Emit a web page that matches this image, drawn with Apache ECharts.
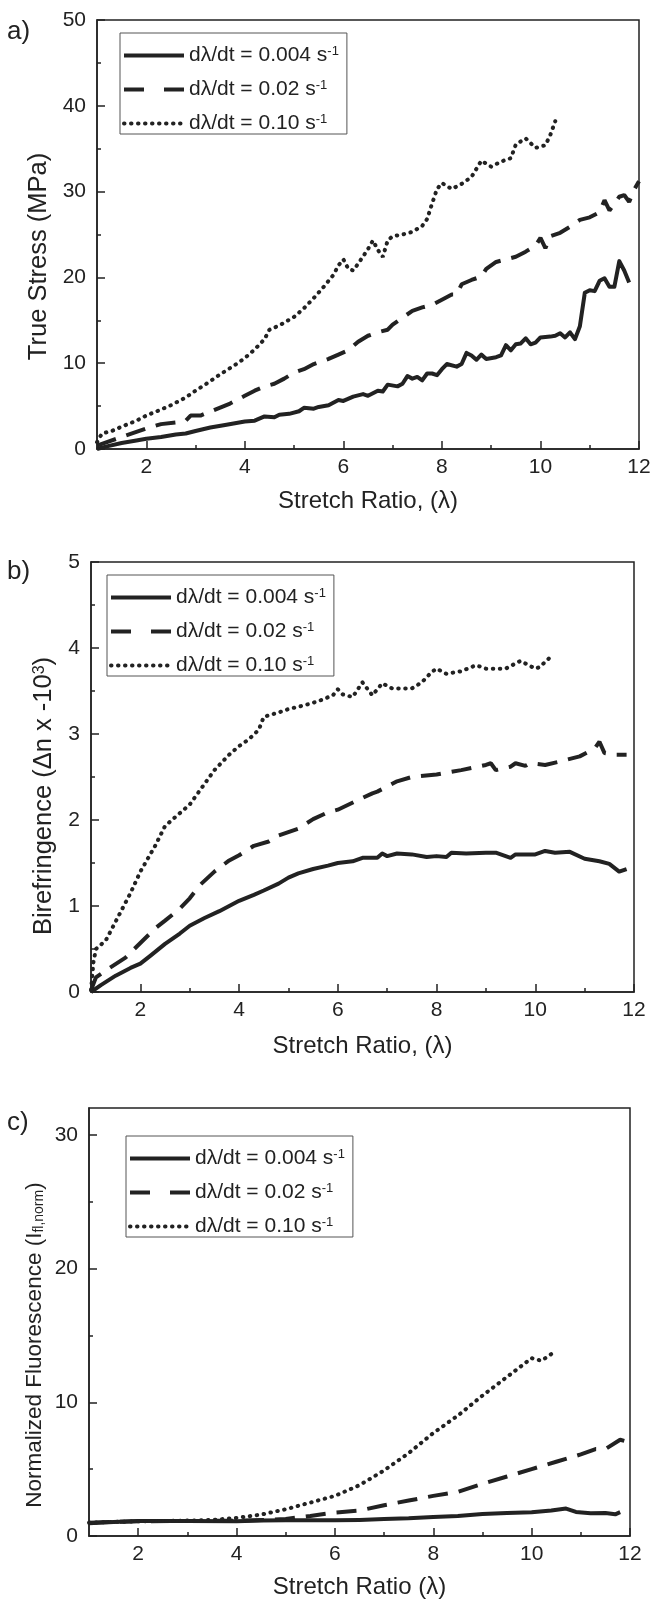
<!DOCTYPE html>
<html>
<head>
<meta charset="utf-8">
<script src="https://cdn.jsdelivr.net/npm/echarts@6/dist/echarts.min.js"></script>
<style>
html,body{margin:0;padding:0;background:#fff;}
#container{width:651px;height:1602px;}
</style>
</head>
<body>
<div id="container"></div>
<script>
// rates shown in the legends
var rates = ['0.004', '0.02', '0.10'];

// ticks
var xMajor = [2, 4, 6, 8, 10, 12];
var xMinor = [3, 5, 7, 9, 11];
var stressMajor = [0, 10, 20, 30, 40, 50];
var stressMinor = [5, 15, 25, 35, 45];
var birefMajor = [0, 1, 2, 3, 4, 5];
var birefMinor = [0.5, 1.5, 2.5, 3.5, 4.5];
var fluorMajor = [0, 10, 20, 30];
var fluorMinor = [5, 15, 25];

// a) true stress [lambda, MPa]
var stress004 = [[1.0,0.0],[1.2,0.3],[1.5,0.7],[1.8,1.0],[2.0,1.2],[2.3,1.4],[2.6,1.7],[2.8,1.8],[3.0,2.1],[3.3,2.5],[3.6,2.8],[3.8,3.0],[4.0,3.2],[4.2,3.3],[4.4,3.8],[4.6,3.7],[4.7,4.0],[4.9,4.1],[5.1,4.4],[5.2,4.8],[5.4,4.7],[5.5,4.9],[5.7,5.1],[5.9,5.7],[6.0,5.6],[6.2,6.1],[6.4,6.4],[6.5,6.2],[6.7,6.8],[6.8,6.7],[6.9,7.5],[7.1,7.3],[7.2,7.6],[7.3,8.5],[7.4,8.2],[7.5,8.4],[7.6,8.0],[7.7,8.8],[7.8,8.8],[7.9,8.6],[8.0,9.3],[8.1,9.9],[8.3,9.6],[8.4,9.9],[8.5,11.2],[8.6,10.9],[8.7,10.4],[8.8,11.0],[8.9,10.5],[9.1,10.7],[9.2,10.9],[9.3,12.1],[9.4,11.5],[9.5,12.2],[9.6,12.3],[9.7,12.9],[9.8,12.2],[9.9,12.4],[10.0,13.0],[10.2,13.1],[10.3,13.2],[10.4,13.5],[10.5,13.0],[10.6,13.6],[10.7,12.8],[10.8,14.3],[10.9,18.2],[11.0,18.5],[11.1,18.4],[11.2,19.6],[11.3,19.9],[11.4,18.9],[11.5,18.9],[11.6,21.9],[11.7,20.8],[11.8,19.4]];
var stress002 = [[1.0,0.4],[1.2,0.8],[1.5,1.4],[1.8,2.0],[2.0,2.4],[2.3,2.9],[2.6,3.1],[2.8,3.3],[2.9,3.9],[3.1,3.9],[3.4,4.6],[3.7,5.3],[4.0,6.2],[4.2,6.8],[4.4,7.3],[4.6,7.6],[4.8,8.2],[5.0,8.9],[5.2,9.3],[5.4,9.9],[5.7,10.5],[5.9,11.0],[6.1,11.5],[6.3,12.5],[6.5,13.2],[6.7,13.6],[6.9,13.9],[7.0,14.5],[7.2,15.3],[7.4,16.1],[7.6,16.5],[7.8,16.8],[8.0,17.4],[8.2,18.0],[8.3,18.0],[8.4,19.2],[8.6,19.7],[8.8,20.1],[8.9,21.0],[9.1,21.8],[9.3,22.1],[9.5,22.4],[9.7,23.0],[9.9,23.7],[10.0,24.6],[10.1,23.4],[10.2,24.8],[10.4,25.2],[10.6,25.9],[10.8,26.7],[11.0,27.0],[11.2,27.6],[11.3,29.0],[11.4,27.8],[11.5,28.6],[11.6,29.4],[11.7,29.6],[11.8,28.8],[11.9,30.2],[12.0,31.2]];
var stress010 = [[1.0,0.8],[1.1,1.8],[1.3,2.1],[1.5,2.6],[1.8,3.3],[2.0,3.9],[2.3,4.6],[2.5,5.1],[2.8,6.0],[3.0,6.8],[3.3,7.9],[3.5,8.7],[3.8,9.8],[4.0,10.6],[4.2,11.6],[4.4,12.8],[4.5,13.9],[4.7,14.4],[5.0,15.4],[5.2,16.4],[5.4,17.6],[5.6,18.9],[5.8,20.3],[5.9,21.4],[6.0,22.1],[6.1,21.0],[6.2,20.8],[6.3,21.6],[6.5,23.3],[6.6,24.3],[6.7,23.2],[6.8,22.4],[6.9,24.3],[7.0,24.8],[7.2,25.0],[7.4,25.3],[7.6,26.0],[7.7,26.8],[7.8,28.6],[7.9,30.3],[8.0,31.0],[8.2,30.3],[8.4,30.9],[8.6,31.7],[8.8,33.6],[9.0,32.9],[9.2,33.5],[9.4,33.9],[9.5,35.5],[9.7,36.2],[9.9,35.1],[10.1,35.4],[10.2,36.6],[10.3,38.2]];

// b) birefringence [lambda, dn x -10^3]
var biref004 = [[1.0,0.0],[1.2,0.08],[1.5,0.19],[1.8,0.28],[2.0,0.33],[2.2,0.42],[2.5,0.56],[2.8,0.68],[3.0,0.77],[3.3,0.86],[3.6,0.94],[3.8,1.0],[4.0,1.06],[4.3,1.13],[4.5,1.18],[4.8,1.26],[5.0,1.33],[5.2,1.38],[5.5,1.43],[5.8,1.47],[6.0,1.50],[6.3,1.52],[6.5,1.56],[6.8,1.56],[6.9,1.61],[7.0,1.58],[7.2,1.61],[7.5,1.60],[7.8,1.57],[8.0,1.58],[8.2,1.57],[8.3,1.62],[8.6,1.61],[9.0,1.62],[9.2,1.62],[9.5,1.56],[9.6,1.60],[10.0,1.60],[10.2,1.64],[10.4,1.62],[10.7,1.63],[11.0,1.55],[11.3,1.52],[11.5,1.49],[11.7,1.40],[11.85,1.43]];
var biref002 = [[1.0,0.02],[1.1,0.17],[1.3,0.25],[1.7,0.40],[2.0,0.57],[2.3,0.74],[2.5,0.83],[2.8,0.97],[3.0,1.09],[3.2,1.24],[3.5,1.40],[3.8,1.53],[4.0,1.59],[4.3,1.70],[4.6,1.75],[4.8,1.82],[5.2,1.90],[5.5,2.01],[5.8,2.09],[6.0,2.12],[6.4,2.23],[6.7,2.31],[6.8,2.33],[7.2,2.45],[7.5,2.50],[8.0,2.53],[8.5,2.58],[9.0,2.64],[9.1,2.66],[9.2,2.58],[9.5,2.62],[9.6,2.66],[9.8,2.63],[9.9,2.66],[10.2,2.64],[10.5,2.68],[10.9,2.74],[11.2,2.83],[11.3,2.91],[11.4,2.78],[11.6,2.76],[11.85,2.76]];
var biref010 = [[1.0,0.02],[1.05,0.35],[1.1,0.5],[1.3,0.6],[1.5,0.82],[1.8,1.15],[2.0,1.40],[2.3,1.70],[2.5,1.93],[2.8,2.08],[3.0,2.18],[3.3,2.42],[3.5,2.58],[3.8,2.76],[4.0,2.86],[4.2,2.94],[4.4,3.05],[4.5,3.20],[4.8,3.25],[5.0,3.29],[5.3,3.33],[5.6,3.38],[5.9,3.45],[6.0,3.52],[6.1,3.46],[6.3,3.43],[6.5,3.60],[6.7,3.45],[6.9,3.59],[7.1,3.53],[7.5,3.53],[7.7,3.60],[7.9,3.72],[8.0,3.76],[8.2,3.70],[8.5,3.73],[8.8,3.80],[9.0,3.76],[9.4,3.76],[9.7,3.85],[10.0,3.76],[10.1,3.78],[10.2,3.84],[10.3,3.89]];

// c) normalized fluorescence [lambda, I]
var fluor004 = [[1.0,0.95],[1.5,1.05],[2.0,1.12],[3.0,1.12],[4.0,1.10],[4.5,1.15],[5.0,1.17],[6.0,1.17],[6.5,1.20],[7.0,1.27],[7.5,1.32],[8.0,1.42],[8.5,1.50],[9.0,1.65],[9.5,1.72],[10.0,1.77],[10.4,1.90],[10.7,2.05],[10.9,1.80],[11.2,1.70],[11.5,1.72],[11.7,1.62],[11.8,1.78]];
var fluor002 = [[1.0,1.0],[2.0,1.1],[3.0,1.12],[4.0,1.15],[4.6,1.2],[5.0,1.28],[5.5,1.5],[6.0,1.75],[6.5,1.9],[7.0,2.3],[7.5,2.65],[8.0,3.0],[8.5,3.3],[9.0,3.9],[9.5,4.45],[10.0,5.0],[10.5,5.55],[11.0,6.1],[11.3,6.5],[11.5,6.5],[11.8,7.2],[11.95,7.05]];
var fluor010 = [[1.0,1.0],[2.0,1.1],[3.0,1.15],[3.5,1.2],[4.0,1.35],[4.5,1.6],[5.0,2.0],[5.5,2.5],[6.0,3.0],[6.5,3.8],[7.0,4.9],[7.5,6.2],[8.0,7.7],[8.5,9.0],[9.0,10.5],[9.5,11.9],[10.0,13.3],[10.2,13.1],[10.4,13.6]];

var font = "'Liberation Sans', Arial, sans-serif";
var ink = '#222';
var styles = [
  {type: 'solid', width: 4, color: ink, join: 'round'},
  {type: [20, 11], width: 4, color: ink},
  {type: [0.5, 6.5], width: 4, color: ink, cap: 'round'}
];
var rich = {
  t: {fontSize: 21, fontFamily: font, color: ink},
  y: {fontSize: 25.5, fontFamily: font, color: ink},
  ys: {fontSize: 16, fontFamily: font, color: ink, verticalAlign: 'top'},
  s: {fontSize: 13, fontFamily: font, color: ink, verticalAlign: 'top'},
  yc: {fontSize: 22.5, fontFamily: font, color: ink},
  yb: {fontSize: 14, fontFamily: font, color: ink, verticalAlign: 'bottom'}
};

function majorAxis(grid, pos, min, max, ticks, name, gap, pad, size) {
  return {
    type: 'value', gridIndex: grid, position: pos, min: min, max: max,
    axisLine: {show: true, onZero: false, lineStyle: {color: ink, width: 1.5}},
    axisTick: {show: true, inside: true, length: 8, customValues: ticks, lineStyle: {color: ink, width: 1.5}},
    axisLabel: {customValues: ticks, color: ink, fontSize: 21, fontFamily: font, margin: pos == 'left' ? 11 : 8},
    splitLine: {show: false},
    name: name, nameLocation: 'middle', nameGap: gap,
    nameTextStyle: {color: ink, fontSize: size || 24, fontFamily: font, padding: pad || 0, rich: rich}
  };
}
function minorAxis(grid, pos, min, max, ticks) {
  return {
    type: 'value', gridIndex: grid, position: pos, min: min, max: max,
    axisLine: {show: false, onZero: false},
    axisTick: {show: true, inside: true, length: 4, customValues: ticks, lineStyle: {color: ink, width: 1.5}},
    axisLabel: {show: false},
    splitLine: {show: false}
  };
}
function legendAt(left, top) {
  return {
    left: left, top: top, orient: 'vertical', selectedMode: false,
    data: [
      {name: rates[0]},
      {name: rates[1], lineStyle: {type: [20, 20]}},
      {name: rates[2], lineStyle: {type: [0.5, 6.5], cap: 'round'}}
    ],
    borderColor: '#555', borderWidth: 1, borderRadius: 0, padding: [12, 8, 0, 2],
    itemWidth: 60, itemHeight: 14, itemGap: 13,
    lineStyle: {width: 4},
    itemStyle: {color: 'rgba(0,0,0,0)', borderWidth: 0, opacity: 0},
    formatter: function (n) { return '{t|d\u03bb/dt = ' + n + ' s}{s|-1}'; },
    textStyle: {color: ink, fontFamily: font, fontSize: 21, rich: rich}
  };
}

var series = [];
[[stress004, stress002, stress010], [biref004, biref002, biref010], [fluor004, fluor002, fluor010]].forEach(function (set, g) {
  set.forEach(function (d, i) {
    series.push({
      name: rates[i], type: 'line', xAxisIndex: g * 2, yAxisIndex: g * 2,
      data: d, symbol: 'none', color: ink, lineStyle: styles[i], silent: true, animation: false
    });
  });
});

var myChart = echarts.init(document.getElementById('container'));
var option = {
  backgroundColor: '#fff',
  animation: false,
  grid: [
    {left: 97, top: 20, width: 542, height: 429, show: true, borderColor: ink, borderWidth: 1.5, outerBoundsMode: 'none'},
    {left: 91, top: 562, width: 543, height: 430, show: true, borderColor: ink, borderWidth: 1.5, outerBoundsMode: 'none'},
    {left: 89, top: 1108, width: 541, height: 428, show: true, borderColor: ink, borderWidth: 1.5, outerBoundsMode: 'none'}
  ],
  xAxis: [
    majorAxis(0, 'bottom', 1, 12, xMajor, 'Stretch Ratio, (\u03bb)', 40),
    minorAxis(0, 'bottom', 1, 12, xMinor),
    majorAxis(1, 'bottom', 1, 12, xMajor, 'Stretch Ratio, (\u03bb)', 42),
    minorAxis(1, 'bottom', 1, 12, xMinor),
    majorAxis(2, 'bottom', 1, 12, xMajor, 'Stretch Ratio (\u03bb)', 39),
    minorAxis(2, 'bottom', 1, 12, xMinor)
  ],
  yAxis: [
    majorAxis(0, 'left', 0, 50, stressMajor, 'True Stress (MPa)', 35, [0, 44, 0, 0], 25.5),
    minorAxis(0, 'left', 0, 50, stressMinor),
    majorAxis(1, 'left', 0, 5, birefMajor, '{y|Birefringence (\u0394n x -10}{ys|3}{y|)}', 33, [0, 38, 0, 0]),
    minorAxis(1, 'left', 0, 5, birefMinor),
    majorAxis(2, 'left', 0, 32, fluorMajor, '', 40),
    minorAxis(2, 'left', 0, 32, fluorMinor)
  ],
  legend: [legendAt(120, 33), legendAt(107, 575), legendAt(126, 1136)],
  graphic: [
    {type: 'text', x: 7, y: 32, style: {text: 'a)', fontSize: 26, fontFamily: font, fill: ink, verticalAlign: 'middle'}},
    {type: 'text', x: 7, y: 572, style: {text: 'b)', fontSize: 26, fontFamily: font, fill: ink, verticalAlign: 'middle'}},
    {type: 'text', x: 7, y: 1123, style: {text: 'c)', fontSize: 26, fontFamily: font, fill: ink, verticalAlign: 'middle'}},
    {type: 'text', x: 35, y: 1345, rotation: Math.PI / 2, style: {
      text: '{yc|Normalized Fluorescence (I}{yb|fl,norm}{yc|)}', rich: rich,
      align: 'center', verticalAlign: 'middle', fill: ink}}
  ],
  series: series
};
if (option && typeof option === 'object') {
  myChart.setOption(option, true);
}
</script>
</body>
</html>
